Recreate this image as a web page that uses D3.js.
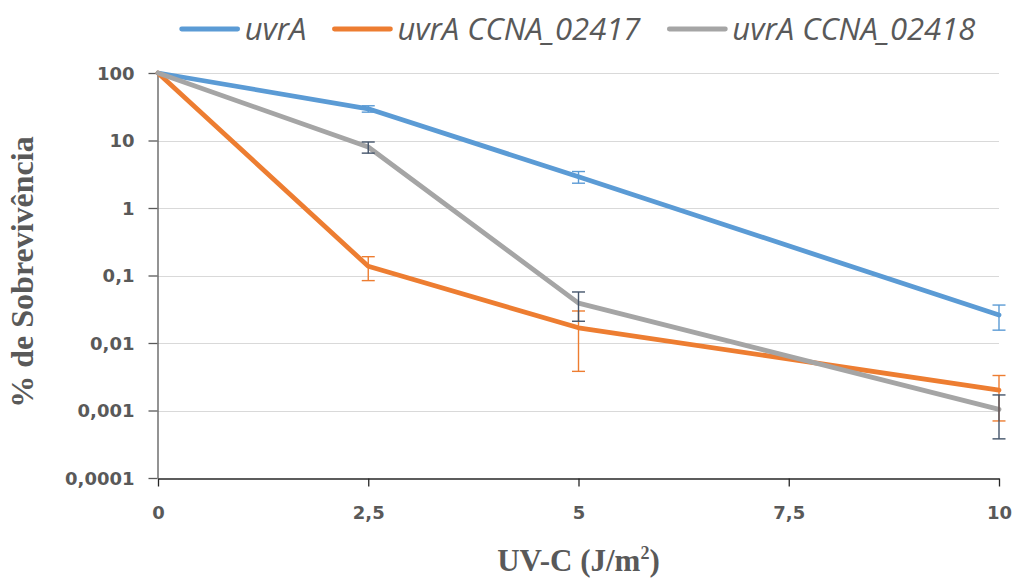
<!DOCTYPE html>
<html>
<head>
<meta charset="utf-8">
<script src="https://cdn.jsdelivr.net/npm/d3@7/dist/d3.min.js"></script>
<style>
	body { margin: 0; background: #fff; }
	.tick-label { font-family: "DejaVu Sans", sans-serif; font-weight: bold; font-size: 18px; fill: #595959; }
	.legend-label { font-family: "Open Sans", sans-serif; font-style: italic; font-size: 31px; fill: #595959; }
	.axis-title { font-family: "Liberation Serif", serif; font-weight: bold; fill: #595959; }
</style>
</head>
<body>
<div id="js-chart"></div>
<script>
// data
const doses = [0, 2.5, 5, 7.5, 10];
const xTickLabels = ['0', '2,5', '5', '7,5', '10'];
const yTicks = [0.0001, 0.001, 0.01, 0.1, 1, 10, 100];
const yTickLabels = ['0,0001', '0,001', '0,01', '0,1', '1', '10', '100'];

const seriesNames = ['uvrA', 'uvrA CCNA_02417', 'uvrA CCNA_02418'];
const measuredDoses = [0, 2.5, 5, 10];
const uvrA = [100, 29.5, 2.9, 0.026];
const uvrAErr = [0, 3.2, 0.57, 0.0105];
const ccna02417 = [100, 0.137, 0.0168, 0.002];
const ccna02417Err = [0, 0.053, 0.013, 0.0013];
const ccna02418 = [100, 8, 0.039, 0.00104];
const ccna02418Err = [0, 1.5, 0.018, 0.00066];

const lineColors = ['#5b9bd5', '#ed7d31', '#a5a5a5'];
const errColors = ['#5b9bd5', '#ed7d31', '#44546a'];

const series = [
	{ name: seriesNames[0], values: uvrA, err: uvrAErr },
	{ name: seriesNames[1], values: ccna02417, err: ccna02417Err },
	{ name: seriesNames[2], values: ccna02418, err: ccna02418Err }
];

// config
const width = 1014, height = 579;
const plot = { left: 158, right: 999, top: 73, bottom: 478 };

const x = d3.scaleLinear().domain([0, 10]).range([plot.left, plot.right]);
const y = d3.scaleLog().domain([0.0001, 100]).range([plot.bottom, plot.top]);

const svg = d3.select('#js-chart')
	.append('svg')
	.attr('width', width)
	.attr('height', height);

// gridlines
svg.append('g')
	.selectAll('line')
	.data(yTicks.slice(1))
	.enter().append('line')
	.attr('x1', plot.left)
	.attr('x2', plot.right)
	.attr('y1', d => Math.round(y(d)) + 0.5)
	.attr('y2', d => Math.round(y(d)) + 0.5)
	.attr('stroke', '#d9d9d9')
	.attr('stroke-width', 1);

// y axis
const yAxis = svg.append('g')
	.attr('transform', `translate(${plot.left - 0.5},0)`)
	.call(d3.axisLeft(y).tickValues(yTicks).tickSize(9).tickFormat((d, i) => yTickLabels[i]).tickSizeOuter(0));
yAxis.select('.domain').attr('stroke', '#595959').attr('stroke-width', 1.3);
yAxis.selectAll('.tick line').attr('stroke', '#595959').attr('stroke-width', 1.3);
yAxis.selectAll('.tick text')
	.attr('class', 'tick-label')
	.attr('x', -(plot.left - 135))
	.attr('dy', '0.36em')
	.attr('font-size', null).attr('font-family', null).attr('fill', null);

// x axis
const xAxis = svg.append('g')
	.attr('transform', `translate(0,${plot.bottom + 0.5})`)
	.call(d3.axisBottom(x).tickValues(doses).tickSize(8).tickFormat((d, i) => xTickLabels[i]).tickSizeOuter(0));
xAxis.select('.domain').attr('stroke', '#262626').attr('stroke-width', 1.3);
xAxis.selectAll('.tick line').attr('stroke', '#262626').attr('stroke-width', 1.3);
xAxis.selectAll('.tick text')
	.attr('class', 'tick-label')
	.attr('y', 34)
	.attr('dy', '0.36em')
	.attr('font-size', null).attr('font-family', null).attr('fill', null);

// lines
const line = d3.line()
	.x((d, i) => x(measuredDoses[i]))
	.y(d => y(d));

svg.append('g')
	.selectAll('path')
	.data(series)
	.enter().append('path')
	.attr('d', d => line(d.values))
	.attr('fill', 'none')
	.attr('stroke', (d, i) => lineColors[i])
	.attr('stroke-width', 4.8)
	.attr('stroke-linejoin', 'round')
	.attr('stroke-linecap', 'round');

// error bars
series.forEach((s, si) => {
	const pts = s.values.map((v, i) => ({ dose: measuredDoses[i], v: v, e: s.err[i] })).filter(p => p.e > 0);
	const g = svg.append('g')
		.attr('stroke', errColors[si])
		.attr('stroke-width', 1.4);
	const bars = g.selectAll('g').data(pts).enter().append('g');
	bars.append('line')
		.attr('x1', p => x(p.dose)).attr('x2', p => x(p.dose))
		.attr('y1', p => y(p.v + p.e)).attr('y2', p => y(p.v - p.e));
	bars.append('line')
		.attr('x1', p => x(p.dose) - 6.5).attr('x2', p => x(p.dose) + 6.5)
		.attr('y1', p => y(p.v + p.e)).attr('y2', p => y(p.v + p.e));
	bars.append('line')
		.attr('x1', p => x(p.dose) - 6.5).attr('x2', p => x(p.dose) + 6.5)
		.attr('y1', p => y(p.v - p.e)).attr('y2', p => y(p.v - p.e));
});

// legend
const legend = svg.append('g');
let lx = 0;
const items = legend.selectAll('g')
	.data(seriesNames)
	.enter().append('g');
items.append('line')
	.attr('x1', 0).attr('x2', 56)
	.attr('y1', 0).attr('y2', 0)
	.attr('stroke', (d, i) => lineColors[i])
	.attr('stroke-width', 4.8)
	.attr('stroke-linecap', 'round');
items.append('text')
	.attr('class', 'legend-label')
	.attr('x', 63)
	.attr('y', 11)
	.text(d => d);
items.each(function () {
	d3.select(this).attr('transform', `translate(${lx},0)`);
	lx += this.getBBox().width + 28;
});
const legendW = lx - 28;
legend.attr('transform', `translate(${(plot.left + plot.right) / 2 - legendW / 2},29)`);

// axis titles
svg.append('text')
	.attr('class', 'axis-title')
	.attr('transform', 'translate(33,272) rotate(-90)')
	.attr('text-anchor', 'middle')
	.attr('font-size', 32)
	.text('% de Sobrevivência');

const xt = svg.append('text')
	.attr('class', 'axis-title')
	.attr('x', (plot.left + plot.right) / 2)
	.attr('y', 571)
	.attr('text-anchor', 'middle')
	.attr('font-size', 31);
xt.append('tspan').text('UV-C (J/m');
xt.append('tspan').attr('font-size', 18).attr('dy', -12).text('2');
xt.append('tspan').attr('dy', 12).text(')');
</script>
</body>
</html>
